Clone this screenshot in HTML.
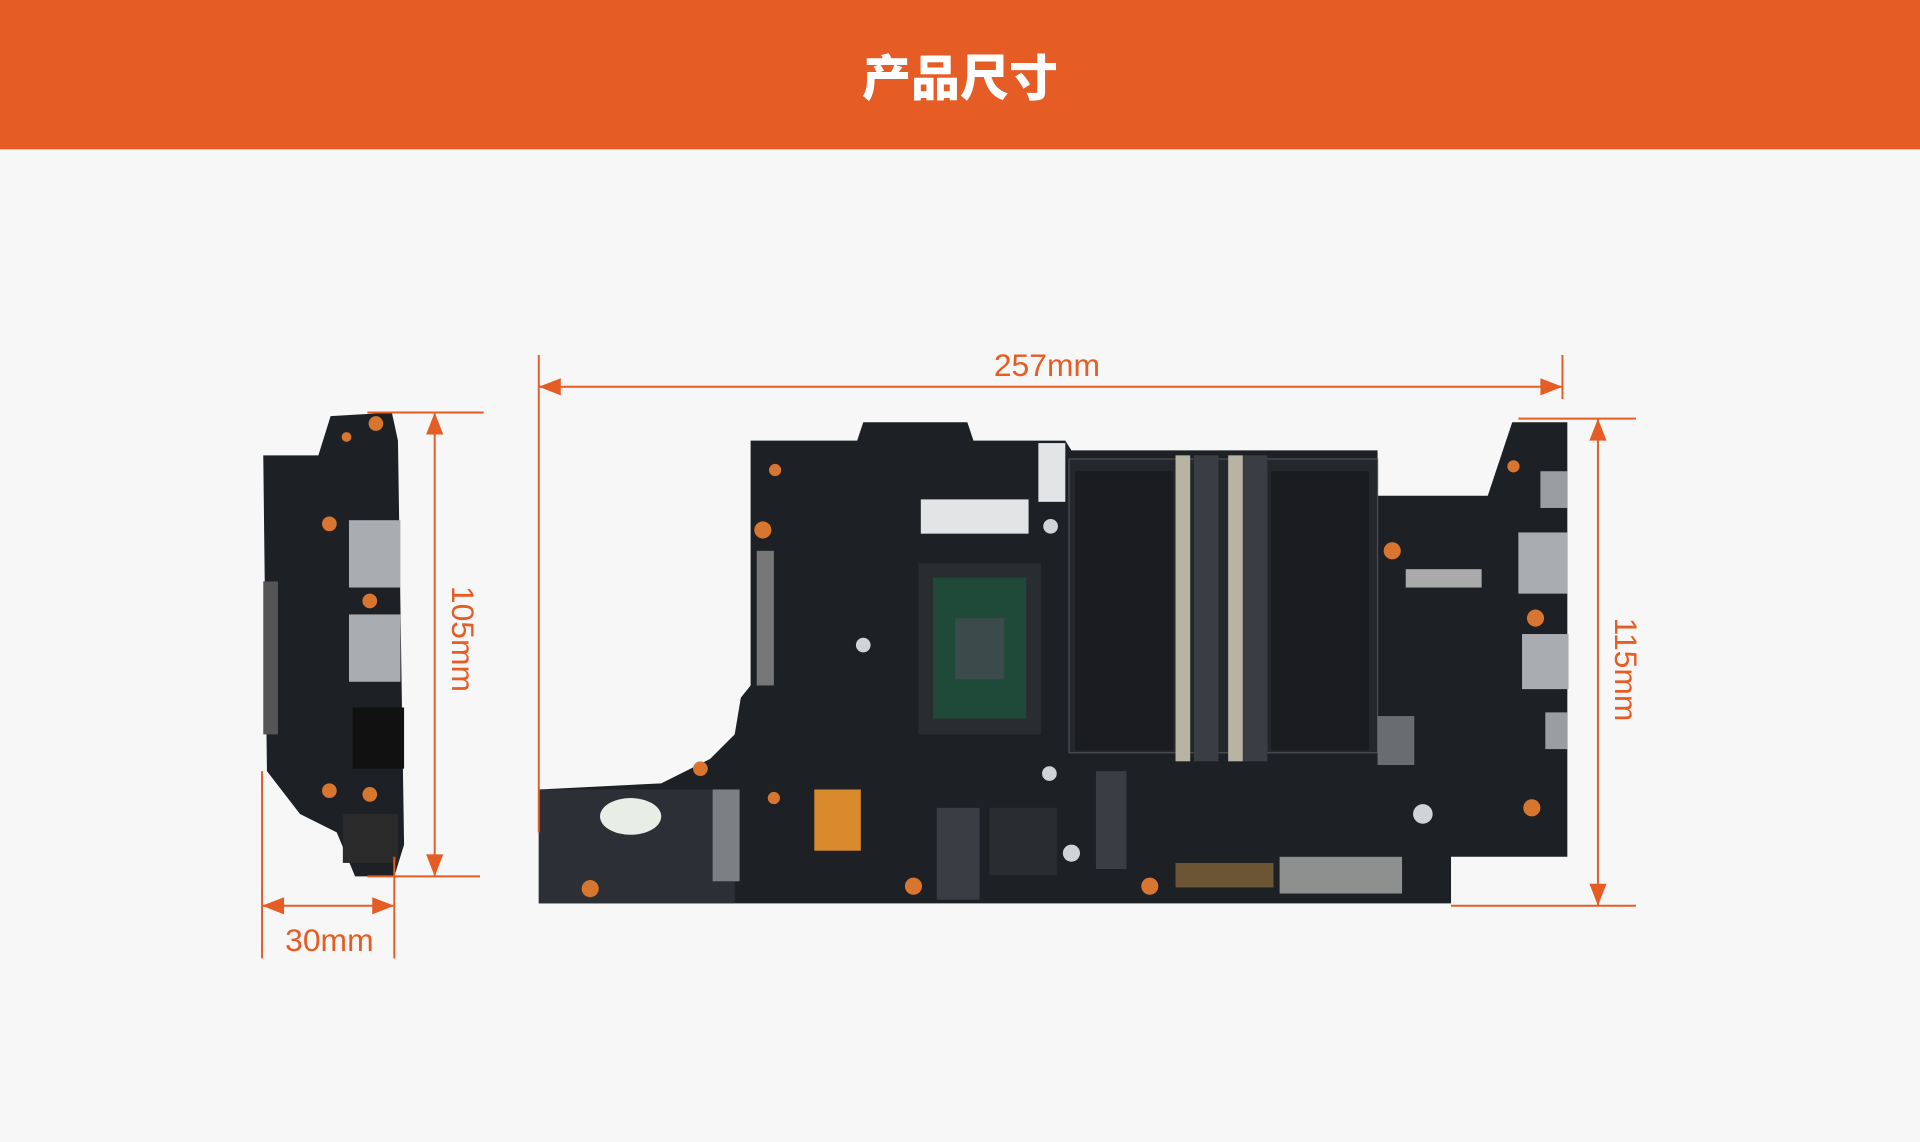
<!DOCTYPE html>
<html><head><meta charset="utf-8"><style>
html,body{margin:0;padding:0;background:#f7f7f7;}
body{width:1920px;height:1142px;overflow:hidden;position:relative;}
svg{position:absolute;left:0;top:0;}
</style></head><body>
<svg width="1920" height="1142" viewBox="0 0 1568 933" preserveAspectRatio="none" xmlns="http://www.w3.org/2000/svg">
<rect x="0" y="0" width="1568" height="933" fill="#f7f7f7"/>
<rect x="0" y="0" width="1568" height="122" fill="#e65c25"/>
<text x="784" y="78" text-anchor="middle" font-family="'Liberation Sans','Noto Sans CJK SC',sans-serif" font-weight="900" font-size="40" fill="#fff">产品尺寸</text>

<!-- small board -->
<polygon points="215,372 260,372 270,340 320,337 325,360 328,560 330,690 322,716 290,716 275,680 245,665 218,630" fill="#1d2024"/>
<rect x="285" y="425" width="42" height="55" fill="#a9adb1"/>
<rect x="285" y="502" width="42" height="55" fill="#a9adb1"/>
<rect x="288" y="578" width="42" height="50" fill="#111"/>
<rect x="215" y="475" width="12" height="125" fill="#555"/>
<rect x="280" y="665" width="45" height="40" fill="#2a2a2a"/>
<g fill="#d8762f"><circle cx="307" cy="346" r="6"/><circle cx="269" cy="428" r="6"/><circle cx="302" cy="491" r="6"/><circle cx="302" cy="649" r="6"/><circle cx="269" cy="646" r="6"/><circle cx="283" cy="357" r="4"/></g>

<!-- main board -->
<polygon points="613,360 700,360 705,345 790,345 795,360 870,360 875,368 1125,368 1125,405 1215,405 1235,345 1280,345 1280,700 1185,700 1185,738 440,738 440,645 540,640 580,620 600,600 605,570 613,560" fill="#1d2024"/>
<rect x="440" y="645" width="160" height="93" fill="#2c3036"/>
<rect x="873" y="375" width="252" height="240" fill="#24282c" stroke="#4b5056"/>
<rect x="878" y="385" width="80" height="228" fill="#1a1c1f"/>
<rect x="1038" y="385" width="80" height="228" fill="#1a1c1f"/>
<rect x="960" y="372" width="12" height="250" fill="#b8b3a2"/>
<rect x="975" y="372" width="20" height="250" fill="#3a3e44"/>
<rect x="1003" y="372" width="12" height="250" fill="#b8b3a2"/>
<rect x="1015" y="372" width="20" height="250" fill="#3a3e44"/>
<rect x="750" y="460" width="100" height="140" fill="#2a2d30"/>
<rect x="762" y="472" width="76" height="115" fill="#1f4a3a"/>
<rect x="780" y="505" width="40" height="50" fill="#3b4a4a"/>
<rect x="752" y="408" width="88" height="28" fill="#e2e4e6"/>
<rect x="848" y="362" width="22" height="48" fill="#e2e4e6"/>
<rect x="1240" y="435" width="40" height="50" fill="#a9adb1"/>
<rect x="1243" y="518" width="38" height="45" fill="#a9adb1"/>
<rect x="1258" y="385" width="22" height="30" fill="#9a9ea2"/>
<rect x="1262" y="582" width="18" height="30" fill="#9a9ea2"/>
<rect x="1125" y="585" width="30" height="40" fill="#6a6d70"/>
<rect x="582" y="645" width="22" height="75" fill="#7c7f83"/>
<rect x="765" y="660" width="35" height="75" fill="#3a3e44"/>
<rect x="895" y="630" width="25" height="80" fill="#3a3e44"/>
<rect x="808" y="660" width="55" height="55" fill="#2a2d30"/>
<rect x="665" y="645" width="38" height="50" fill="#d88a2c"/>
<rect x="1045" y="700" width="100" height="30" fill="#8e8f8f"/>
<rect x="960" y="705" width="80" height="20" fill="#6b5534"/>
<rect x="618" y="450" width="14" height="110" fill="#777"/>
<rect x="1148" y="465" width="62" height="15" fill="#aaa"/>
<ellipse cx="515" cy="667" rx="25" ry="15" fill="#e8eee6"/>
<g fill="#d8762f"><circle cx="623" cy="433" r="7"/><circle cx="633" cy="384" r="5"/><circle cx="572" cy="628" r="6"/><circle cx="482" cy="726" r="7"/><circle cx="746" cy="724" r="7"/><circle cx="939" cy="724" r="7"/><circle cx="1137" cy="450" r="7"/><circle cx="1254" cy="505" r="7"/><circle cx="1251" cy="660" r="7"/><circle cx="1236" cy="381" r="5"/><circle cx="632" cy="652" r="5"/></g>
<g fill="#d0d4d8"><circle cx="858" cy="430" r="6"/><circle cx="857" cy="632" r="6"/><circle cx="1162" cy="665" r="8"/><circle cx="875" cy="697" r="7"/><circle cx="705" cy="527" r="6"/></g>

<!-- dimensions -->
<g stroke="#e65c25" stroke-width="1.6" fill="none">
<line x1="440" y1="290" x2="440" y2="680"/>
<line x1="1276" y1="290" x2="1276" y2="326"/>
<line x1="440" y1="316" x2="1276" y2="316"/>
<line x1="300" y1="337" x2="395" y2="337"/>
<line x1="300" y1="716" x2="392" y2="716"/>
<line x1="355" y1="337" x2="355" y2="716"/>
<line x1="1240" y1="342" x2="1336" y2="342"/>
<line x1="1185" y1="740" x2="1336" y2="740"/>
<line x1="1305" y1="342" x2="1305" y2="740"/>
<line x1="214" y1="630" x2="214" y2="783"/>
<line x1="322" y1="700" x2="322" y2="783"/>
<line x1="214" y1="740" x2="322" y2="740"/>
</g>
<g fill="#e65c25">
<polygon points="440,316 458,309 458,323"/><polygon points="1276,316 1258,309 1258,323"/>
<polygon points="355,337 348,355 362,355"/><polygon points="355,716 348,698 362,698"/>
<polygon points="1305,342 1298,360 1312,360"/><polygon points="1305,740 1298,722 1312,722"/>
<polygon points="214,740 232,733 232,747"/><polygon points="322,740 304,733 304,747"/>
</g>
<g font-family="'Liberation Sans',sans-serif" font-size="26" fill="#e65c25" text-anchor="middle">
<text x="855" y="307">257mm</text>
<text x="269" y="777">30mm</text>
<text transform="translate(369,522) rotate(90)">105mm</text>
<text transform="translate(1319,547) rotate(90)">115mm</text>
</g>
</svg>
</body></html>
